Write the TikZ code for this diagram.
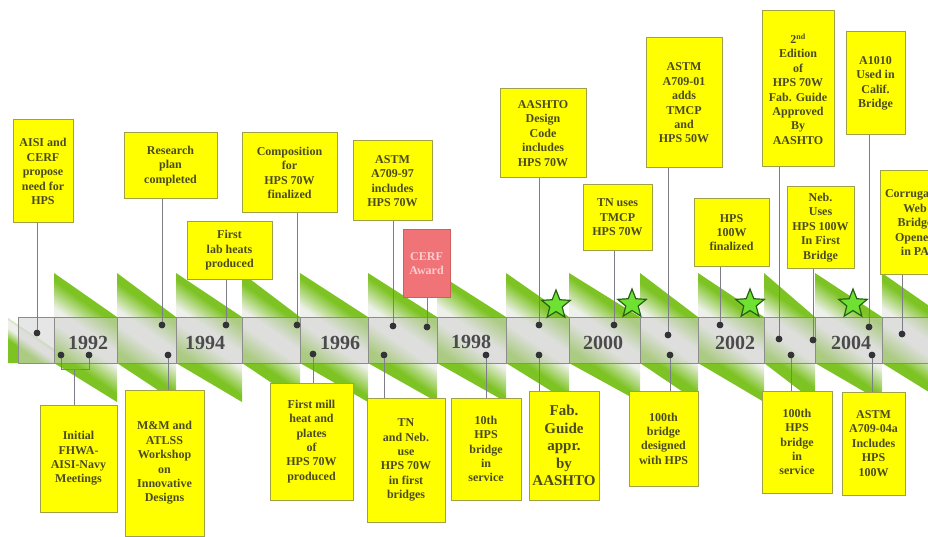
\documentclass[tikz,border=0pt]{standalone}
\usepackage{fontspec}
\setmainfont{Liberation Serif}
\usetikzlibrary{shapes.geometric}

\definecolor{boxyellow}{RGB}{255,255,0}
\definecolor{boxedge}{RGB}{160,160,70}
\definecolor{boxtext}{RGB}{75,75,35}
\definecolor{cerffill}{RGB}{240,115,120}
\definecolor{cerfedge}{RGB}{205,95,95}
\definecolor{cerftext}{RGB}{255,205,205}
\definecolor{ribgreen}{RGB}{125,195,35}
\definecolor{riblight}{RGB}{238,240,236}
\definecolor{bandgray}{RGB}{210,210,210}
\definecolor{bandline}{RGB}{140,140,140}
\definecolor{linkgray}{RGB}{125,125,135}
\definecolor{dotgray}{RGB}{50,50,55}
\definecolor{yeargray}{RGB}{75,75,75}
\definecolor{starfill}{RGB}{110,225,50}
\definecolor{staredge}{RGB}{40,95,20}

\pgfdeclareverticalshading{ribbonfade}{100bp}{color(0bp)=(ribgreen); color(36bp)=(ribgreen); color(47bp)=(riblight); color(53bp)=(riblight); color(64bp)=(ribgreen); color(100bp)=(ribgreen)}

\begin{document}
\begin{tikzpicture}
	[x=1pt, y=-1pt,
	 tbox/.style={draw=boxedge, line width=1pt, fill=boxyellow, text=boxtext, align=center, inner sep=1pt, font=\bfseries\fontsize{12}{14.4}\selectfont},
	 wh/.style 2 args={minimum width=#1pt, minimum height=#2pt},
	 cerf/.style={tbox, draw=cerfedge, fill=cerffill, text=cerftext},
	 big/.style={font=\bfseries\fontsize{15}{17.5}\selectfont},
	 ribbon/.style={shading=ribbonfade, shading angle=-35},
	 bandcell/.style={draw=bandline, line width=0.8pt, fill=bandgray, fill opacity=0.55},
	 link/.style={draw=linkgray, line width=0.9pt},
	 dot/.style={circle, fill=dotgray, inner sep=0pt, minimum size=6.5pt},
	 year/.style={text=yeargray, font=\bfseries\fontsize{20}{22}\selectfont},
	 gstar/.style={star, star points=5, star point ratio=2.3, minimum size=30pt, inner sep=0pt, fill=starfill, draw=staredge, line width=1.2pt}]
	\useasboundingbox (0,0) rectangle (928,537);

	% twisted ribbon
	\shade[ribbon] (8,318) -- (54,349) -- (54,363) -- (8,363) -- cycle;
	\foreach \a/\b in {54/117,117/176,176/242,242/300,300/368,368/437,437/506,506/569,569/640,640/698,698/764,764/815,815/882,882/945}
	\shade[ribbon] (\a,273) -- (\b,317) -- (\b,402) -- (\a,363) -- cycle;
	\foreach \a/\b in {18/54,54/117,117/176,176/242,242/300,300/368,368/437,437/506,506/569,569/640,640/698,698/764,764/815,815/882,882/945}
	\filldraw[bandcell] (\a,317) rectangle (\b,363);

	% events above
	\node[tbox, wh={60}{103}] (t1) at (43,171.5) {AISI and\\CERF\\propose\\need for\\HPS};
	\node[tbox, wh={93}{66}] (t2) at (170.5,166) {Research\\plan\\completed};
	\node[tbox, wh={85}{57}] (t3) at (229.5,250.5) {First\\lab heats\\produced};
	\node[tbox, wh={95}{80}] (t4) at (289.5,173) {Composition\\for\\HPS 70W\\finalized};
	\node[tbox, wh={79}{80}] (t5) at (392.5,181) {ASTM\\A709-97\\includes\\HPS 70W};
	\node[cerf, wh={47}{67}] (t6) at (426.5,263.5) {CERF\\Award};
	\node[tbox, wh={86}{89}] (t7) at (543,133.5) {AASHTO\\Design\\Code\\includes\\HPS 70W};
	\node[tbox, wh={69}{65}] (t8) at (617.5,217.5) {TN uses\\TMCP\\HPS 70W};
	\node[tbox, wh={76}{130}] (t9) at (684,103) {ASTM\\A709-01\\adds\\TMCP\\and\\HPS 50W};
	\node[tbox, wh={72}{156}] (t10) at (798,89) {2\textsuperscript{nd}\\Edition\\of\\HPS 70W\\Fab. Guide\\Approved\\By\\AASHTO};
	\node[tbox, wh={59}{103}] (t11) at (875.5,83.5) {A1010\\Used in\\Calif.\\Bridge};
	\node[tbox, wh={75}{67}] (t12) at (731.5,232.5) {HPS\\100W\\finalized};
	\node[tbox, wh={67}{81}] (t13) at (820.5,227.5) {Neb.\\Uses\\HPS 100W\\In First\\Bridge};
	\node[tbox, wh={70}{103}] (t14) at (915,222.5) {Corrugated\\Web\\Bridge\\Opened\\in PA};

	% events below
	\node[tbox, wh={77}{107}] (b1) at (78.5,458.5) {Initial\\FHWA-\\AISI-Navy\\Meetings};
	\node[tbox, wh={79}{146}] (b2) at (164.5,463) {M\&M and\\ATLSS\\Workshop\\on\\Innovative\\Designs};
	\node[tbox, wh={83}{117}] (b3) at (311.5,441.5) {First mill\\heat and\\plates\\of\\HPS 70W\\produced};
	\node[tbox, wh={78}{124}] (b4) at (406,460) {TN\\and Neb.\\use\\HPS 70W\\in first\\bridges};
	\node[tbox, wh={70}{102}] (b5) at (486,449) {10th\\HPS\\bridge\\in\\service};
	\node[tbox, big, wh={70}{109}] (b6) at (564,445.5) {Fab.\\Guide\\appr.\\by\\AASHTO};
	\node[tbox, wh={69}{95}] (b7) at (663.5,438.5) {100th\\bridge\\designed\\with HPS};
	\node[tbox, wh={70}{102}] (b8) at (797,442) {100th\\HPS\\bridge\\in\\service};
	\node[tbox, wh={63}{103}] (b9) at (873.5,443.5) {ASTM\\A709-04a\\Includes\\HPS\\100W};

	% dots on the band
	\node[dot] (p1) at (37,333) {};
	\node[dot] (p2) at (162,325) {};
	\node[dot] (p3) at (226,325) {};
	\node[dot] (p4) at (297,325) {};
	\node[dot] (p5) at (393,326) {};
	\node[dot] (p6) at (427,327) {};
	\node[dot] (p7) at (539,325) {};
	\node[dot] (p8) at (614,325) {};
	\node[dot] (p9) at (668,335) {};
	\node[dot] (p10) at (779,339) {};
	\node[dot] (p11) at (869,327) {};
	\node[dot] (p12) at (720,325) {};
	\node[dot] (p13) at (813,340) {};
	\node[dot] (p14) at (902,334) {};
	\node[dot] (q1) at (61,355) {};
	\node[dot] (q2) at (89,355) {};
	\node[dot] (q3) at (168,355) {};
	\node[dot] (q4) at (313,354) {};
	\node[dot] (q5) at (384,355) {};
	\node[dot] (q6) at (486,355) {};
	\node[dot] (q7) at (539,355) {};
	\node[dot] (q8) at (670,355) {};
	\node[dot] (q9) at (791,355) {};
	\node[dot] (q10) at (872,355) {};
	\coordinate (br) at (74,369);

	\foreach \from/\to in {p1/t1,p2/t2,p3/t3,p4/t4,p5/t5,p6/t6,p7/t7,p8/t8,p9/t9,p10/t10,p11/t11,p12/t12,p13/t13,p14/t14}
	\draw[link] (\from) -- (\from |- \to.south);
	\foreach \from/\to in {q3/b2,q4/b3,q5/b4,q6/b5,q7/b6,q8/b7,q9/b8,q10/b9}
	\draw[link] (\from) -- (\from |- \to.north);
	\draw[link] (q1) |- (br) -| (q2);
	\draw[link] (br) -- (br |- b1.north);

	% redraw dots over the lines
	\foreach \d in {p1,p2,p3,p4,p5,p6,p7,p8,p9,p10,p11,p12,p13,p14,q1,q2,q3,q4,q5,q6,q7,q8,q9,q10}
	\fill[dotgray] (\d) circle (3.3pt);

	% stars
	\node[gstar] (s1) at (556,305) {};
	\node[gstar] (s2) at (632,304) {};
	\node[gstar] (s3) at (750,304) {};
	\node[gstar] (s4) at (853,304) {};

	% years
	\node[year] (y92) at (88,343) {1992};
	\node[year] (y94) at (205,343) {1994};
	\node[year] (y96) at (340,343) {1996};
	\node[year] (y98) at (471,342) {1998};
	\node[year] (y00) at (603,343) {2000};
	\node[year] (y02) at (735,343) {2002};
	\node[year] (y04) at (851,343) {2004};
\end{tikzpicture}
\end{document}
